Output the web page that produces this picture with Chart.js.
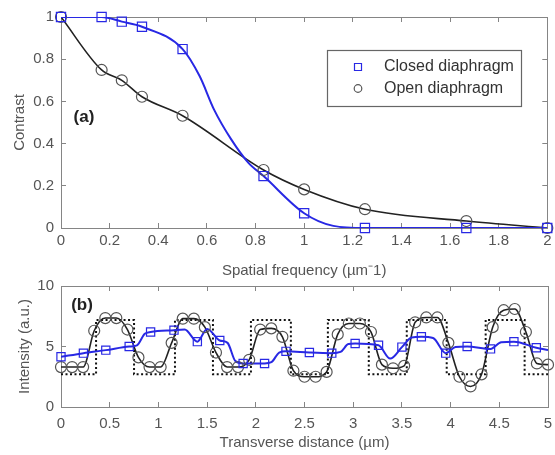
<!DOCTYPE html>
<html>
<head>
<meta charset="utf-8">
<script src="https://cdn.jsdelivr.net/npm/chart.js@4.4.1/dist/chart.umd.min.js"></script>
<style>
  html, body { margin: 0; padding: 0; background: #fff; }
  #wrap { position: relative; width: 555px; height: 455px; overflow: hidden; }
  #wrap canvas { position: absolute; left: 0; }
  #chartA { top: 0; width: 555px; height: 285px; }
  #chartB { top: 275px; width: 555px; height: 180px; }
</style>
</head>
<body>
<div id="wrap">
  <canvas id="chartA" width="555" height="285"></canvas>
  <canvas id="chartB" width="555" height="180"></canvas>
</div>
<script>
// (a) contrast vs spatial frequency
const freqClosed = [0, 0.167, 0.25, 0.333, 0.5, 0.833, 1, 1.25, 1.667, 2];
const contrastClosed = [1, 1, 0.978, 0.954, 0.848, 0.246, 0.07, 0, 0, 0];
// points read along the blue curve between the markers
const freqClosedCurve = [0.57, 0.63, 0.70, 0.77, 1.12];
const contrastClosedCurve = [0.72, 0.56, 0.42, 0.31, 0.01];

const freqOpen = [0, 0.167, 0.25, 0.333, 0.5, 0.833, 1, 1.25, 1.667, 2];
const contrastOpen = [1, 0.749, 0.70, 0.622, 0.532, 0.275, 0.183, 0.089, 0.033, 0];

const freqTicks = [0, 0.2, 0.4, 0.6, 0.8, 1, 1.2, 1.4, 1.6, 1.8, 2];
const contrastTicks = [0, 0.2, 0.4, 0.6, 0.8, 1];

// (b) intensity profiles vs transverse distance
const distOpen = [0, 0.114, 0.227, 0.341, 0.455, 0.568, 0.682, 0.795, 0.909, 1.023,
  1.136, 1.25, 1.364, 1.477, 1.591, 1.705, 1.818, 1.932, 2.045, 2.159,
  2.273, 2.386, 2.5, 2.614, 2.727, 2.841, 2.955, 3.068, 3.182, 3.295,
  3.409, 3.523, 3.636, 3.75, 3.864, 3.977, 4.091, 4.205, 4.318, 4.432,
  4.545, 4.659, 4.773, 4.886, 5];
const intensityOpen = [3.3, 3.3, 3.3, 6.3, 7.35, 7.35, 6.4, 4.1, 3.3, 3.3,
  5.3, 7.3, 7.3, 6.6, 4.5, 3.3, 3.3, 3.9, 6.4, 6.5,
  5.8, 3.0, 2.5, 2.5, 2.9, 6.0, 6.9, 6.9, 6.2, 3.5,
  3.2, 3.4, 7.0, 7.4, 7.4, 5.3, 2.5, 1.7, 2.7, 6.6,
  8.0, 8.1, 6.2, 3.6, 3.5];

const distClosed = [0, 0.23, 0.46, 0.70, 0.92, 1.16, 1.40, 1.63, 1.87, 2.09, 2.31,
  2.55, 2.78, 3.02, 3.26, 3.50, 3.70, 3.95, 4.17, 4.41, 4.65, 4.88];
const intensityClosed = [4.15, 4.45, 4.7, 5.0, 6.2, 6.35, 5.4, 5.5, 3.6, 3.6, 4.6,
  4.5, 4.45, 5.25, 5.1, 4.95, 5.8, 4.45, 5.0, 4.8, 5.4, 4.9];
const distClosedCurve = [0.78, 0.86, 1.27, 1.50, 1.71, 1.79, 2.16, 2.24, 2.87, 2.95,
  3.38, 3.60, 3.82, 4.05, 4.52, 5.0];
const intensityClosedCurve = [5.1, 6.05, 6.4, 6.45, 5.3, 3.8, 3.7, 4.5, 4.55, 5.2,
  4.0, 5.75, 5.7, 4.95, 5.35, 4.7];

// object (square grating) edges, dotted
const edgeDist = [0, 0.36, 0.75, 1.17, 1.56, 1.95, 2.36, 2.74, 3.16, 3.55, 3.96, 4.36, 4.76, 5];
const edgeLevel = [2.7, 7.2, 2.7, 7.2, 2.7, 7.2, 2.7, 7.2, 2.7, 7.2, 2.7, 7.2, 2.7, 2.7];

const distTicks = [0, 0.5, 1, 1.5, 2, 2.5, 3, 3.5, 4, 4.5, 5];
const intensityTicks = [0, 5, 10];

// styles
Chart.defaults.font.family = "'Liberation Sans', Arial, sans-serif";
const axisGray = '#858585';
const textGray = '#555555';
const blue = 'rgb(40, 40, 228)';
const black = '#222222';
const markerGray = '#555555';

const fmt = v => String(Number(v.toFixed(2)));
const toPoints = (xs, ys) => xs.map((x, i) => ({ x, y: ys[i] }));
const mergeCurve = (xa, ya, xb, yb) =>
  toPoints(xa, ya).concat(toPoints(xb, yb)).sort((p, q) => p.x - q.x);

// boxed MATLAB-like frame: ticks inside, on all four sides
function frame(o) {
  const setTicks = vals => s => { s.ticks = vals.map(value => ({ value })); };
  const grid = { drawOnChartArea: false, tickLength: -5, tickColor: axisGray, tickWidth: 1 };
  const border = { color: axisGray, width: 1 };
  const font = { size: 15 };
  return {
    x: {
      type: 'linear', position: 'bottom', min: o.xMin, max: o.xMax, grid, border,
      afterBuildTicks: setTicks(o.xTicks),
      afterFit: s => { s.height = o.bottom; s.paddingLeft = 0; s.paddingRight = 0; },
      ticks: { padding: o.xPad, color: textGray, font, maxRotation: 0, autoSkip: false, callback: fmt },
      title: { display: true, text: o.xTitle, color: textGray, font, padding: { top: 0, bottom: o.xTitlePad } }
    },
    xTop: {
      type: 'linear', position: 'top', min: o.xMin, max: o.xMax, grid, border,
      afterBuildTicks: setTicks(o.xTicks),
      afterFit: s => { s.height = o.top; s.paddingLeft = 0; s.paddingRight = 0; },
      ticks: { display: false }
    },
    y: {
      type: 'linear', position: 'left', min: o.yMin, max: o.yMax, grid, border,
      afterBuildTicks: setTicks(o.yTicks),
      afterFit: s => { s.width = o.left; s.paddingTop = 0; s.paddingBottom = 0; },
      ticks: { padding: 12, color: textGray, font, autoSkip: false, callback: fmt },
      title: { display: true, text: o.yTitle, color: textGray, font, padding: { top: o.yTitlePad, bottom: 0 } }
    },
    yRight: {
      type: 'linear', position: 'right', min: o.yMin, max: o.yMax, grid, border,
      afterBuildTicks: setTicks(o.yTicks),
      afterFit: s => { s.width = o.right; s.paddingTop = 0; s.paddingBottom = 0; },
      ticks: { display: false }
    }
  };
}

// panel letter, (a) / (b)
const panelLabel = {
  id: 'panelLabel',
  afterDatasetsDraw(chart, args, opts) {
    const ctx = chart.ctx;
    ctx.save();
    ctx.font = "bold 17px 'Liberation Sans', Arial, sans-serif";
    ctx.fillStyle = '#222';
    ctx.textAlign = 'center';
    ctx.textBaseline = 'middle';
    ctx.fillText(opts.text, opts.x, opts.y);
    ctx.restore();
  }
};

// boxed legend inside panel (a)
const boxLegend = {
  id: 'boxLegend',
  afterDatasetsDraw(chart, args, opts) {
    if (!opts.entries) return;
    const ctx = chart.ctx;
    ctx.save();
    ctx.fillStyle = '#fff';
    ctx.fillRect(opts.left, opts.top, opts.width, opts.height);
    ctx.strokeStyle = '#666';
    ctx.lineWidth = 1.2;
    ctx.strokeRect(opts.left + 0.5, opts.top + 0.5, opts.width, opts.height);
    ctx.font = "16px 'Liberation Sans', Arial, sans-serif";
    ctx.textBaseline = 'middle';
    opts.entries.forEach((e, i) => {
      const cy = opts.top + 17 + i * 21.5;
      const cx = opts.left + 31;
      ctx.strokeStyle = e.color;
      ctx.lineWidth = 1.2;
      ctx.beginPath();
      if (e.style === 'rect') ctx.rect(cx - 3.5, cy - 3.5, 7, 7);
      else ctx.arc(cx, cy, 3.8, 0, Math.PI * 2);
      ctx.stroke();
      ctx.fillStyle = '#333';
      ctx.fillText(e.label, opts.left + 57, cy);
    });
    ctx.restore();
  }
};

new Chart(document.getElementById('chartA'), {
  type: 'scatter',
  data: {
    datasets: [
      { label: 'Closed diaphragm', data: toPoints(freqClosed, contrastClosed), showLine: false,
        pointStyle: 'rect', pointRadius: 6.5, borderColor: blue, borderWidth: 1.2,
        backgroundColor: 'rgba(0,0,0,0)', clip: false },
      { label: 'Open diaphragm', data: toPoints(freqOpen, contrastOpen), showLine: false,
        pointStyle: 'circle', pointRadius: 5.5, borderColor: markerGray, borderWidth: 1.2,
        backgroundColor: 'rgba(0,0,0,0)', clip: false },
      { label: 'closed curve', data: mergeCurve(freqClosed, contrastClosed, freqClosedCurve, contrastClosedCurve),
        showLine: true, pointRadius: 0, borderColor: blue, borderWidth: 2, cubicInterpolationMode: 'monotone' },
      { label: 'open curve', data: toPoints(freqOpen, contrastOpen),
        showLine: true, pointRadius: 0, borderColor: black, borderWidth: 1.6, cubicInterpolationMode: 'monotone' }
    ]
  },
  options: {
    responsive: false,
    animation: false,
    layout: { padding: 0 },
    plugins: {
      legend: { display: false },
      tooltip: { enabled: false },
      panelLabel: { text: '(a)', x: 84, y: 117 },
      boxLegend: {
        left: 327, top: 50, width: 194, height: 56,
        entries: [
          { label: 'Closed diaphragm', style: 'rect', color: blue },
          { label: 'Open diaphragm', style: 'circle', color: markerGray }
        ]
      }
    },
    scales: frame({
      xMin: 0, xMax: 2, yMin: 0, yMax: 1, xTicks: freqTicks, yTicks: contrastTicks,
      xTitle: 'Spatial frequency (µm⁻1)', yTitle: 'Contrast',
      left: 61, right: 3, top: 17, bottom: 57, xPad: 9, xTitlePad: 5, yTitlePad: 11
    })
  },
  plugins: [panelLabel, boxLegend]
});

new Chart(document.getElementById('chartB'), {
  type: 'scatter',
  data: {
    datasets: [
      { label: 'closed', data: toPoints(distClosed, intensityClosed), showLine: false,
        pointStyle: 'rect', pointRadius: 5.8, borderColor: blue, borderWidth: 1.2,
        backgroundColor: 'rgba(0,0,0,0)', clip: false },
      { label: 'open', data: toPoints(distOpen, intensityOpen), showLine: false,
        pointStyle: 'circle', pointRadius: 5.5, borderColor: markerGray, borderWidth: 1.2,
        backgroundColor: 'rgba(0,0,0,0)', clip: false },
      { label: 'closed curve', data: mergeCurve(distClosed, intensityClosed, distClosedCurve, intensityClosedCurve),
        showLine: true, pointRadius: 0, borderColor: blue, borderWidth: 2, cubicInterpolationMode: 'monotone' },
      { label: 'open curve', data: toPoints(distOpen, intensityOpen),
        showLine: true, pointRadius: 0, borderColor: black, borderWidth: 1.6, cubicInterpolationMode: 'monotone' },
      { label: 'object', data: toPoints(edgeDist, edgeLevel), showLine: true, stepped: 'before',
        pointRadius: 0, borderColor: '#111', borderWidth: 2, borderDash: [2, 2.5] }
    ]
  },
  options: {
    responsive: false,
    animation: false,
    layout: { padding: 0 },
    plugins: {
      legend: { display: false },
      tooltip: { enabled: false },
      panelLabel: { text: '(b)', x: 82, y: 30 }
    },
    scales: frame({
      xMin: 0, xMax: 5, yMin: 0, yMax: 10, xTicks: distTicks, yTicks: intensityTicks,
      xTitle: 'Transverse distance (µm)', yTitle: 'Intensity (a.u.)',
      left: 61, right: 2, top: 11, bottom: 48, xPad: 13, xTitlePad: 3, yTitlePad: 15.5
    })
  },
  plugins: [panelLabel]
});
</script>
</body>
</html>
